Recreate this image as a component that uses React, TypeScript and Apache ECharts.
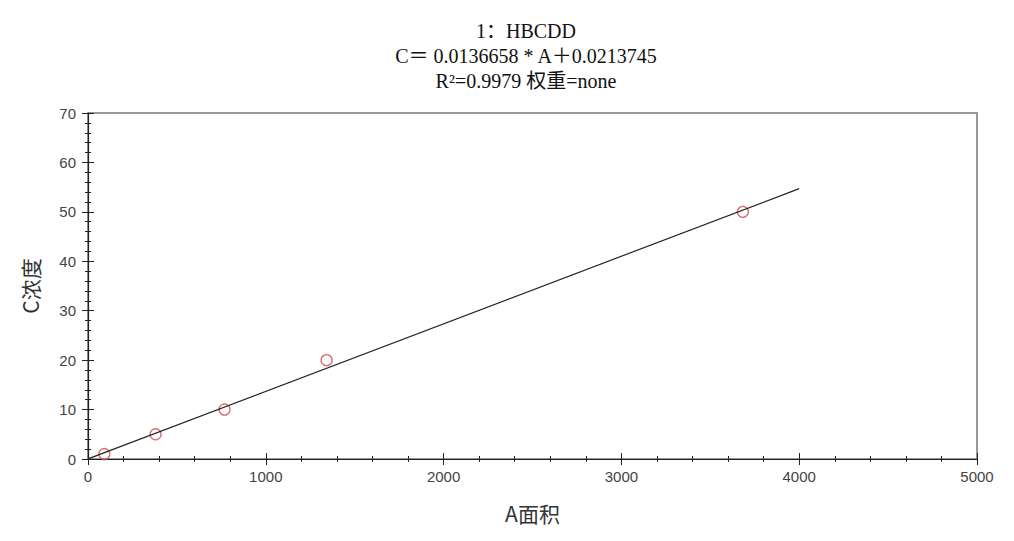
import React, { useEffect, useRef } from "react";
import * as echarts from "echarts";

const titleLines = ["1：HBCDD", "C＝ 0.0136658 * A＋0.0213745", "R²=0.9979 权重=none"];
const xName = "A面积";
const yName = "C浓度";
const pointArea = [92, 380, 768, 1342, 3683];
const pointConc = [1, 5, 10, 20, 50];
const fitArea = [0, 4000];
const fitConc = [0.02, 54.69];

export default function App() {
  const ref = useRef<HTMLDivElement>(null);
  useEffect(() => {
    document.body.style.margin = "0";
    const chart = echarts.init(ref.current!, null, { renderer: "svg" });
    const axisText = {
      color: "#444",
      fontFamily: "Liberation Sans, Arial, sans-serif",
      fontSize: 15,
      formatter: (v: number) => String(v),
    };
    const baseX = {
      type: "value",
      min: 0,
      max: 5000,
      interval: 1000,
      splitLine: { show: false },
      minorSplitLine: { show: false },
    };
    const baseY = {
      type: "value",
      min: 0,
      max: 70,
      interval: 10,
      splitLine: { show: false },
      minorSplitLine: { show: false },
    };
    chart.setOption({
      animation: false,
      backgroundColor: "#fff",
      title: {
        text: titleLines.join("\n"),
        left: 521,
        textAlign: "center",
        top: 13,
        textStyle: {
          fontFamily: "Liberation Serif, Times New Roman, Noto Sans CJK SC, serif",
          fontSize: 20,
          fontWeight: "normal",
          color: "#111",
          lineHeight: 25,
        },
      },
      grid: {
        left: 88,
        right: 37,
        top: 113,
        bottom: 82,
        show: true,
        borderColor: "#777",
        borderWidth: 1.5,
      },
      xAxis: [
        {
          ...baseX,
          position: "bottom",
          name: xName,
          nameLocation: "middle",
          nameGap: 43,
          nameTextStyle: { fontSize: 21, color: "#333", fontFamily: "Noto Sans CJK SC, serif" },
          axisLine: { show: true, lineStyle: { color: "#222", width: 1.2 } },
          axisTick: { show: true, inside: false, length: 6, lineStyle: { color: "#222" } },
          minorTick: { show: true, splitNumber: 5, length: 3, lineStyle: { color: "#222" } },
          axisLabel: { ...axisText, margin: 10 },
        },
        {
          ...baseX,
          position: "bottom",
          axisLine: { show: false },
          axisTick: { show: true, inside: true, length: 6, lineStyle: { color: "#222" } },
          minorTick: { show: true, splitNumber: 5, length: 3, lineStyle: { color: "#222" } },
          axisLabel: { show: false },
        },
      ],
      yAxis: [
        {
          ...baseY,
          position: "left",
          name: yName,
          nameLocation: "middle",
          nameGap: 48,
          nameTextStyle: { fontSize: 21, color: "#333", fontFamily: "Noto Sans CJK SC, serif" },
          axisLine: { show: true, lineStyle: { color: "#222", width: 1.2 } },
          axisTick: { show: true, inside: false, length: 6, lineStyle: { color: "#222" } },
          minorTick: { show: true, splitNumber: 5, length: 3, lineStyle: { color: "#222" } },
          axisLabel: { ...axisText, margin: 12 },
        },
        {
          ...baseY,
          position: "left",
          axisLine: { show: false },
          axisTick: { show: true, inside: true, length: 6, lineStyle: { color: "#222" } },
          minorTick: { show: true, splitNumber: 5, length: 3, lineStyle: { color: "#222" } },
          axisLabel: { show: false },
        },
      ],
      series: [
        {
          type: "line",
          data: fitArea.map((a, i) => [a, fitConc[i]]),
          showSymbol: false,
          symbol: "none",
          lineStyle: { color: "#222", width: 1.2 },
          silent: true,
        },
        {
          type: "scatter",
          data: pointArea.map((a, i) => [a, pointConc[i]]),
          symbol: "circle",
          symbolSize: 11,
          itemStyle: { color: "transparent", borderColor: "#cc4444", borderWidth: 1.3 },
        },
      ],
    });
    return () => chart.dispose();
  }, []);
  return <div ref={ref} style={{ width: 1014, height: 541 }} />;
}
